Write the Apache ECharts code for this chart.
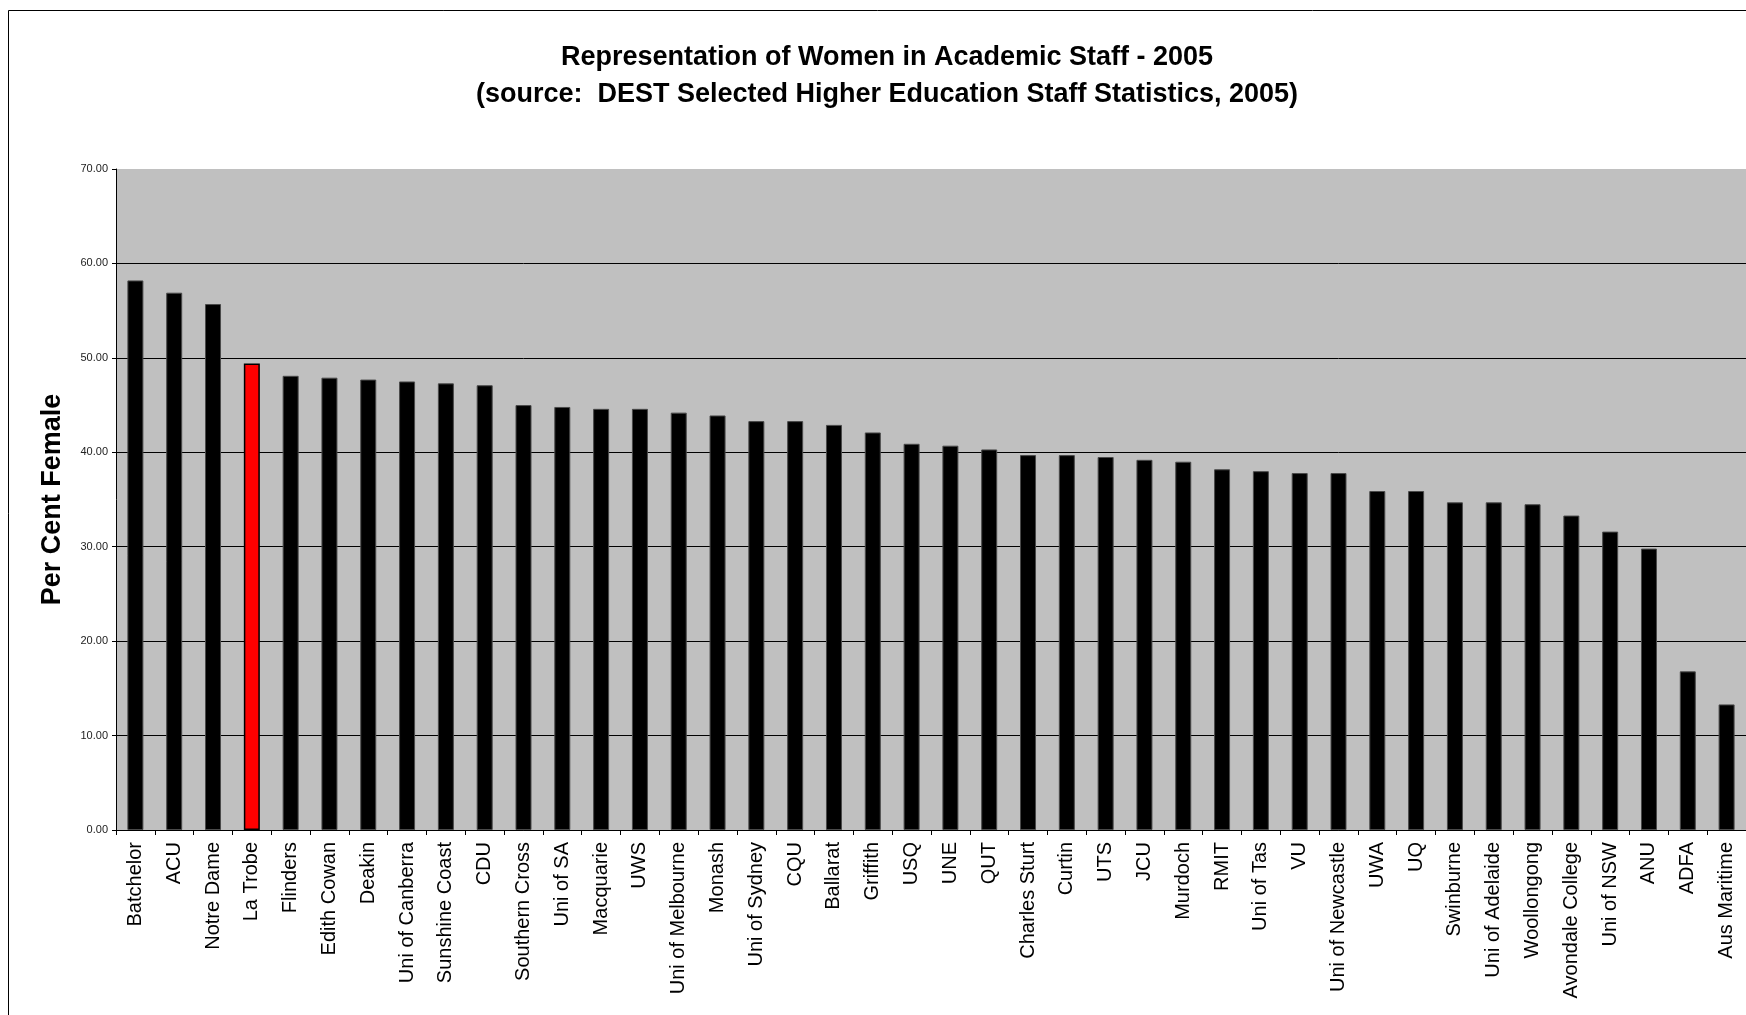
<!DOCTYPE html>
<html>
<head>
<meta charset="utf-8">
<style>
  html, body { margin: 0; padding: 0; background: #ffffff; }
  #chart { width: 1746px; height: 1015px; }
</style>
<script src="https://cdn.jsdelivr.net/npm/echarts@6/dist/echarts.min.js"></script>
</head>
<body>
<div id="chart"></div>
<script>
const titleLine1 = 'Representation of Women in Academic Staff - 2005';
const titleLine2 = '(source:  DEST Selected Higher Education Staff Statistics, 2005)';
const yAxisName = 'Per Cent Female';

const categories = [
  'Batchelor', 'ACU', 'Notre Dame', 'La Trobe', 'Flinders', 'Edith Cowan', 'Deakin',
  'Uni of Canberra', 'Sunshine Coast', 'CDU', 'Southern Cross', 'Uni of SA', 'Macquarie',
  'UWS', 'Uni of Melbourne', 'Monash', 'Uni of Sydney', 'CQU', 'Ballarat', 'Griffith',
  'USQ', 'UNE', 'QUT', 'Charles Sturt', 'Curtin', 'UTS', 'JCU', 'Murdoch', 'RMIT',
  'Uni of Tas', 'VU', 'Uni of Newcastle', 'UWA', 'UQ', 'Swinburne', 'Uni of Adelaide',
  'Woollongong', 'Avondale College', 'Uni of NSW', 'ANU', 'ADFA', 'Aus Maritime'
];

const percentFemale = [
  58.2, 56.9, 55.7, 49.4, 48.1, 47.9, 47.7,
  47.5, 47.3, 47.1, 45.0, 44.8, 44.6,
  44.6, 44.2, 43.9, 43.3, 43.3, 42.9, 42.1,
  40.9, 40.7, 40.3, 39.7, 39.7, 39.5, 39.2, 39.0, 38.2,
  38.0, 37.8, 37.8, 35.9, 35.9, 34.7, 34.7,
  34.5, 33.3, 31.6, 29.8, 16.8, 13.3
];

const highlighted = ['La Trobe'];

const yMin = 0, yMax = 70, yStep = 10;

const FONT = "'Liberation Sans', Arial, Helvetica, sans-serif";

const barData = categories.map((c, i) => {
  const hl = highlighted.indexOf(c) >= 0;
  return {
    value: percentFemale[i],
    itemStyle: hl
      ? { color: '#ff0000', borderColor: '#000000', borderWidth: 1.5 }
      : { color: '#000000', borderColor: '#4a4a4a', borderWidth: 1 }
  };
});

const chart = echarts.init(document.getElementById('chart'), null, { renderer: 'canvas' });

chart.setOption({
  backgroundColor: '#ffffff',
  animation: false,
  textStyle: { fontFamily: FONT },
  title: [
    {
      text: titleLine1,
      left: 887, top: 42, textAlign: 'center', padding: 0,
      textStyle: { fontFamily: FONT, fontSize: 27, fontWeight: 'bold', color: '#000', lineHeight: 32 }
    },
    {
      text: titleLine2,
      left: 887, top: 79, textAlign: 'center', padding: 0,
      textStyle: { fontFamily: FONT, fontSize: 27, fontWeight: 'bold', color: '#000', lineHeight: 32 }
    }
  ],
  graphic: [
    {
      type: 'rect',
      silent: true,
      z: -1,
      shape: { x: 8.5, y: 10.5, width: 1800, height: 1100 },
      style: { fill: 'none', stroke: '#000', lineWidth: 1 }
    }
  ],
  grid: {
    left: 116, top: 169, width: 1633, height: 661,
    show: true, backgroundColor: '#c0c0c0', borderWidth: 0
  },
  xAxis: {
    type: 'category',
    data: categories,
    boundaryGap: true,
    axisLine: { show: true, lineStyle: { color: '#000', width: 1 } },
    axisTick: { show: true, length: 5, lineStyle: { color: '#000', width: 1 } },
    axisLabel: {
      interval: 0, rotate: 90, margin: 12,
      fontFamily: FONT, fontSize: 20, color: '#000'
    },
    splitLine: { show: false }
  },
  yAxis: {
    type: 'value',
    min: yMin, max: yMax, interval: yStep,
    name: yAxisName,
    nameLocation: 'middle',
    nameGap: 50,
    nameTextStyle: { fontFamily: FONT, fontSize: 27, fontWeight: 'bold', color: '#000' },
    axisLine: { show: true, lineStyle: { color: '#000', width: 1 } },
    axisTick: { show: true, length: 4, lineStyle: { color: '#000', width: 1 } },
    axisLabel: {
      margin: 8, fontFamily: FONT, fontSize: 11, color: '#222',
      formatter: v => v.toFixed(2)
    },
    splitLine: { show: true, showMaxLine: false, lineStyle: { color: '#000', width: 1 } }
  },
  series: [
    {
      type: 'bar',
      data: barData,
      barWidth: 16,
      z: 3
    }
  ]
});
</script>
</body>
</html>
